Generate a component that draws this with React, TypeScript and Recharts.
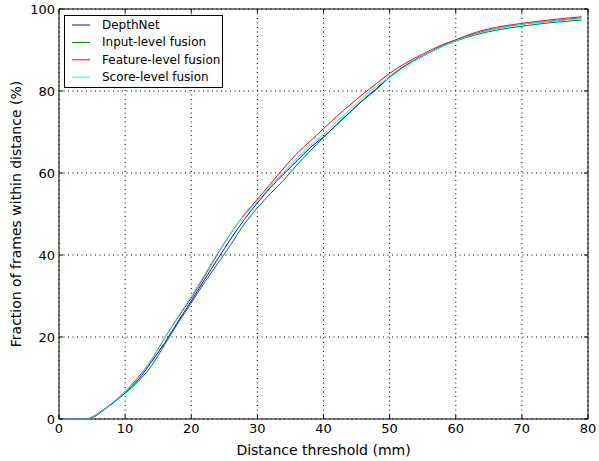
import React from "react";
import { LineChart, Line, XAxis, YAxis, CartesianGrid, Legend, ReferenceArea, Label } from "recharts";

const xs = [0, 2, 4, 5, 6, 7, 8, 9, 10, 12, 14, 16, 18, 20, 22, 24, 26, 28, 30, 32, 34, 36, 38, 40, 42, 44, 46, 48, 50, 52, 55, 58, 60, 63, 66, 70, 74, 79];
const depthNet = [0, 0, 0, 0.3, 1.3, 2.5, 3.7, 5.0, 6.4, 9.6, 14.0, 18.6, 23.8, 28.8, 34.0, 39.0, 44.0, 48.6, 52.7, 56.5, 59.8, 63.0, 66.2, 68.8, 71.8, 74.8, 77.8, 80.4, 83.4, 85.8, 88.6, 91.0, 92.4, 94.0, 95.2, 96.3, 97.0, 97.8];
const inputFusion = [0, 0, 0, 0.5, 1.5, 2.6, 3.8, 5.0, 6.3, 9.2, 13.0, 18.2, 23.4, 28.3, 33.3, 37.9, 42.6, 47.5, 51.5, 55.0, 58.3, 62.0, 65.4, 68.6, 71.8, 74.9, 77.9, 80.6, 83.5, 85.8, 88.5, 90.9, 92.2, 93.7, 94.8, 95.8, 96.6, 97.3];
const featureFusion = [0, 0, 0, 0.3, 1.3, 2.5, 3.8, 5.2, 6.7, 10.2, 14.5, 19.8, 24.8, 29.5, 34.8, 40.3, 45.3, 49.8, 53.6, 57.4, 61.2, 64.8, 67.8, 70.8, 73.8, 76.6, 79.3, 81.8, 84.3, 86.4, 89.0, 91.3, 92.5, 94.3, 95.5, 96.5, 97.3, 98.1];
const scoreFusion = [0, 0, 0, 0.4, 1.4, 2.6, 3.9, 5.2, 6.6, 10.0, 14.5, 19.9, 25.0, 30.0, 35.2, 40.5, 45.4, 49.6, 53.1, 56.9, 60.2, 63.7, 66.8, 69.4, 72.5, 75.5, 78.5, 81.2, 83.3, 85.6, 88.5, 90.9, 92.3, 93.9, 95.2, 96.3, 97.0, 97.7];

const xTicks = [0, 10, 20, 30, 40, 50, 60, 70, 80];
const yTicks = [0, 20, 40, 60, 80, 100];

const seriesNames = ["DepthNet", "Input-level fusion", "Feature-level fusion", "Score-level fusion"];
const seriesKeys = ["depthNet", "inputFusion", "featureFusion", "scoreFusion"];
const seriesColors = ["#0000ff", "#008000", "#ff0000", "#00ffff"];

const data = xs.map((x, i) => ({
  x,
  depthNet: depthNet[i],
  inputFusion: inputFusion[i],
  featureFusion: featureFusion[i],
  scoreFusion: scoreFusion[i],
}));

const W = 599;
const H = 461;
const M = { top: 9, right: 11, bottom: 0, left: 0 };
const YW = 59;
const XH = 42;
const PLOT_TOP = M.top;
const PLOT_BOTTOM = H - M.bottom - XH;
const PLOT_LEFT = M.left + YW;
const PLOT_RIGHT = W - M.right;
const FONT = "DejaVu Sans";

const XTick = (props: any) => {
  const { x, payload } = props;
  return (
    <g>
      <line x1={x} x2={x} y1={PLOT_BOTTOM} y2={PLOT_BOTTOM - 4} stroke="#000" />
      <line x1={x} x2={x} y1={PLOT_TOP} y2={PLOT_TOP + 4} stroke="#000" />
      <text x={x} y={PLOT_BOTTOM + 14} textAnchor="middle" fontFamily={FONT} fontSize={13} fill="#000">
        {payload.value}
      </text>
    </g>
  );
};

const YTick = (props: any) => {
  const { y, payload } = props;
  return (
    <g>
      <line x1={PLOT_LEFT} x2={PLOT_LEFT + 4} y1={y} y2={y} stroke="#000" />
      <line x1={PLOT_RIGHT} x2={PLOT_RIGHT - 4} y1={y} y2={y} stroke="#000" />
      <text x={PLOT_LEFT - 4} y={y + 5} textAnchor="end" fontFamily={FONT} fontSize={13} fill="#000">
        {payload.value}
      </text>
    </g>
  );
};

const LegendBox = () => (
  <svg width={160} height={74} style={{ display: "block" }}>
    <rect x={0.5} y={0.5} width={158} height={72} fill="#fff" stroke="#000" />
    {seriesNames.map((n, i) => {
      const cy = 10 + i * 17.4;
      return (
        <g key={n}>
          <line x1={8} x2={26} y1={cy} y2={cy} stroke={seriesColors[i]} strokeWidth={1} />
          <text x={38} y={cy + 4} fontFamily={FONT} fontSize={12} fill="#000">
            {n}
          </text>
        </g>
      );
    })}
  </svg>
);

export default function App() {
  return (
    <div style={{ position: "absolute", left: 0, top: 0, width: W, height: H, background: "#fff" }}>
      <LineChart width={W} height={H} data={data} margin={M}>
        <CartesianGrid stroke="#000" strokeDasharray="1 3.5" strokeWidth={1} />
        <XAxis
          dataKey="x"
          type="number"
          domain={[0, 80]}
          ticks={xTicks}
          height={XH}
          tickSize={0}
          tickLine={false}
          axisLine={false}
          tick={<XTick />}
          interval={0}
        >
          <Label value="Distance threshold (mm)" position="insideBottom" offset={6} fontFamily={FONT} fontSize={14} fill="#000" />
        </XAxis>
        <YAxis
          type="number"
          domain={[0, 100]}
          ticks={yTicks}
          width={YW}
          tickSize={0}
          tickLine={false}
          axisLine={false}
          tick={<YTick />}
          interval={0}
        >
          <Label value="Fraction of frames within distance (%)" angle={-90} position="center" dx={-13} fontFamily={FONT} fontSize={14} fill="#000" />
        </YAxis>
        {seriesKeys.map((k, i) => (
          <Line
            key={k}
            dataKey={k}
            name={seriesNames[i]}
            type="monotone"
            stroke={seriesColors[i]}
            strokeWidth={1}
            dot={false}
            isAnimationActive={false}
          />
        ))}
        <ReferenceArea x1={0} x2={80} y1={0} y2={100} fill="none" stroke="#000" strokeWidth={1} ifOverflow="visible" />
        <Legend
          layout="vertical"
          align="center"
          verticalAlign="middle"
          content={<LegendBox />}
          wrapperStyle={{ position: "absolute", left: 64, top: 15, width: 160, height: 74 }}
        />
      </LineChart>
    </div>
  );
}
